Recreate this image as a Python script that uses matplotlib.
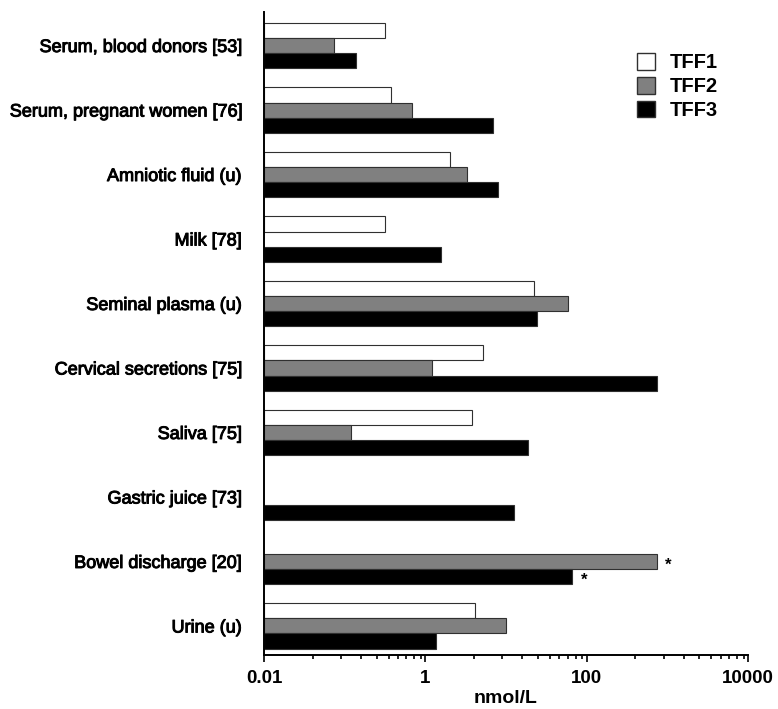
import numpy as np
import matplotlib
matplotlib.use("Agg")
import matplotlib.pyplot as plt
import matplotlib.patheffects as pe
from matplotlib.patches import Patch

plt.rcParams['font.family'] = ['Liberation Sans', 'DejaVu Sans']

# sample types and TFF peptide concentrations (nmol/L), NaN = not measured
categories = ["Serum, blood donors [53]", "Serum, pregnant women [76]",
              "Amniotic fluid (u)", "Milk [78]", "Seminal plasma (u)",
              "Cervical secretions [75]", "Saliva [75]", "Gastric juice [73]",
              "Bowel discharge [20]", "Urine (u)"]
tff1 = [0.32, 0.38, 2.0, 0.32, 22, 5.2, 3.8, np.nan, np.nan, 4.1]
tff2 = [0.074, 0.68, 3.3, np.nan, 58, 1.2, 0.12, np.nan, 740, 10]
tff3 = [0.14, 6.9, 7.9, 1.55, 24, 740, 19, 12.5, 66, 1.35]
series_names = ["TFF1", "TFF2", "TFF3"]
# bars marked with an asterisk: (category index, series index)
starred = [(8, 1), (8, 2)]

major_ticks = [0.01, 1, 100, 10000]
major_labels = ["0.01", "1", "100", "10000"]
minor_steps = [0.04, 0.09, 0.16, 0.25, 0.35, 0.46, 0.58, 0.73, 0.88]

xmin, xmax = 0.01, 10000
fills = ["white", "#808080", "black"]
edge = "#303030"
bar_h = 0.233

fig = plt.figure(figsize=(7.78, 7.09), dpi=100)
ax = fig.add_axes([264 / 778, 1 - 655 / 709, (748 - 264) / 778, (655 - 12) / 709])

y = np.arange(len(categories))
for k, vals in enumerate([tff1, tff2, tff3]):
    vals = np.array(vals, dtype=float)
    ok = ~np.isnan(vals)
    yy = y[ok] + (k - 1) * bar_h
    ax.barh(yy, vals[ok] - xmin, left=xmin, height=bar_h, color=fills[k],
            edgecolor=edge, linewidth=0.8)

for i, k in starred:
    v = [tff1, tff2, tff3][k][i]
    ax.text(v * 1.4, y[i] + (k - 1) * bar_h + 0.06, "*", ha="center", va="center",
            fontsize=12, fontweight="bold")

ax.set_xscale("log")
ax.set_xlim(xmin, xmax)
ax.set_ylim(9.45, -0.52)

ax.set_xticks(major_ticks)
ax.set_xticklabels(major_labels, fontsize=13.5, fontweight="bold")
minors = []
for lo, hi in zip(major_ticks[:-1], major_ticks[1:]):
    minors += [hi * s for s in minor_steps]
ax.set_xticks(minors, minor=True)
ax.tick_params(axis="x", which="major", length=5, width=1.2, pad=6, direction="out")
ax.tick_params(axis="x", which="minor", length=3, width=1.2, direction="out")

# category names: regular width, thickened with a thin stroke
ax.set_yticks(y)
ax.set_yticklabels(categories, fontsize=13)
for lab in ax.get_yticklabels():
    lab.set_path_effects([pe.withStroke(linewidth=0.7, foreground="black")])
ax.tick_params(axis="y", length=0, pad=16)

ax.set_xlabel("nmol/L", fontsize=14, fontweight="bold", labelpad=2)

for side in ["top", "right"]:
    ax.spines[side].set_visible(False)
for side in ["left", "bottom"]:
    ax.spines[side].set_linewidth(1.4)

handles = [Patch(facecolor=fills[k], edgecolor=edge, linewidth=1.0) for k in range(3)]
fig.legend(handles, series_names, loc="upper left",
           bbox_to_anchor=(627 / 778, 1 - 43 / 709), frameon=False,
           prop={"size": 14.5, "weight": "bold"}, handlelength=0.9,
           handleheight=0.9, handletextpad=0.7, labelspacing=0.22, borderpad=0)

fig.savefig("out.png", dpi=100)
